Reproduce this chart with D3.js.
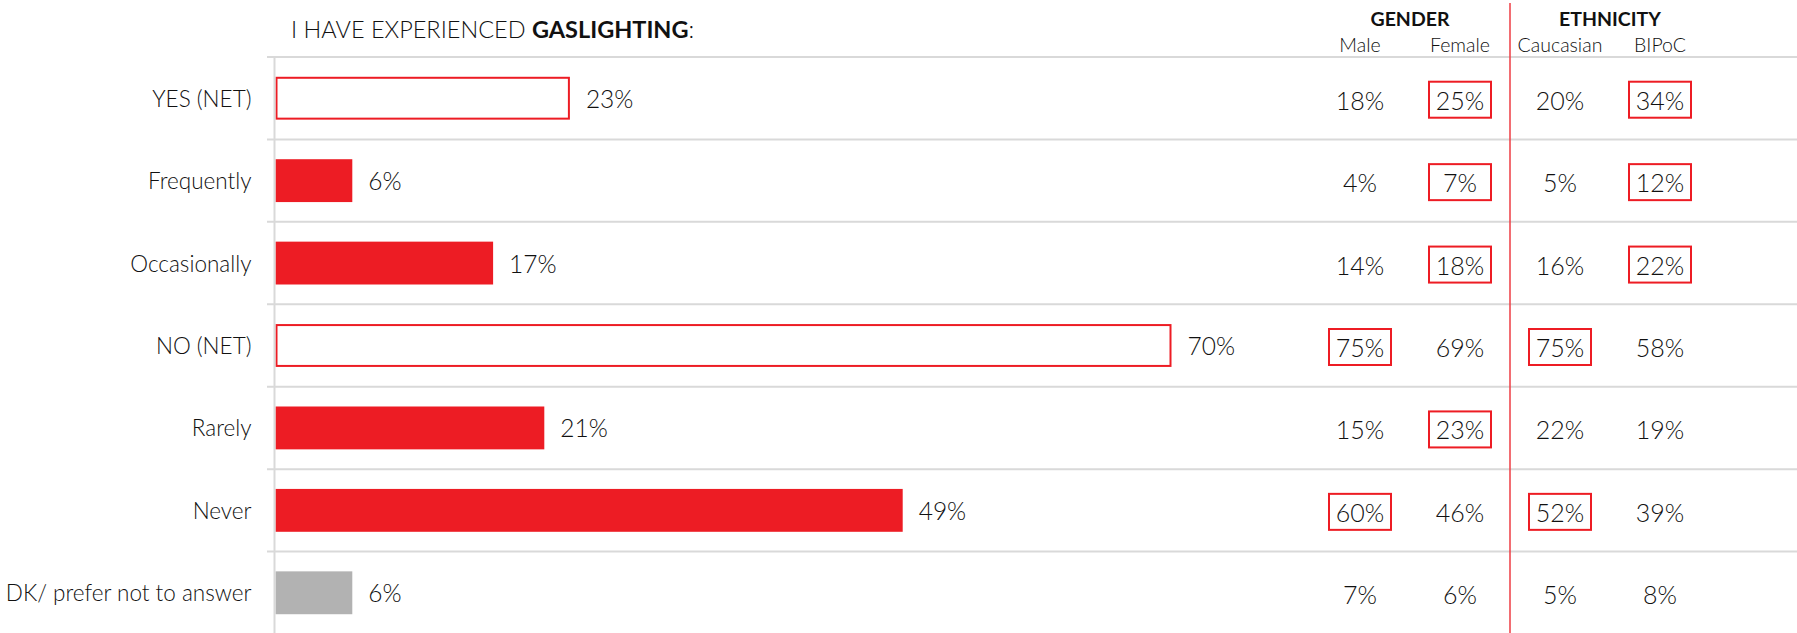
<!DOCTYPE html>
<html>
<head>
<meta charset="utf-8">
<script src="https://cdn.jsdelivr.net/npm/d3@7"></script>
<style>
  html, body { margin: 0; padding: 0; background: #ffffff; }
  svg { display: block; }
  text { font-family: "Lato", "Open Sans", sans-serif; fill: #111111; }
</style>
</head>
<body>
<svg id="chart" width="1797" height="633"></svg>
<script>
// Survey answers: "I have experienced gaslighting"
const categories = [
  "YES (NET)",
  "Frequently",
  "Occasionally",
  "NO (NET)",
  "Rarely",
  "Never",
  "DK/ prefer not to answer"
];
const totalValues = [23, 6, 17, 70, 21, 49, 6];

// Net rows are drawn as outlined bars, the "don't know" row in grey
const netCategories = ["YES (NET)", "NO (NET)"];
const noAnswerCategory = "DK/ prefer not to answer";

// Breakdown columns
const subgroups = ["Male", "Female", "Caucasian", "BIPoC"];
const maleValues = [18, 4, 14, 75, 15, 60, 7];
const femaleValues = [25, 7, 18, 69, 23, 46, 6];
const caucasianValues = [20, 5, 16, 75, 22, 52, 5];
const bipocValues = [34, 12, 22, 58, 19, 39, 8];

// Cells that are significantly higher than the comparison group (boxed)
const maleHigher = [false, false, false, true, false, true, false];
const femaleHigher = [true, true, true, false, true, false, false];
const caucasianHigher = [false, false, false, true, false, true, false];
const bipocHigher = [true, true, true, false, false, false, false];

const groupNames = ["GENDER", "ETHNICITY"];
const groupMembers = [["Male", "Female"], ["Caucasian", "BIPoC"]];

const subgroupValues = [maleValues, femaleValues, caucasianValues, bipocValues];
const subgroupHigher = [maleHigher, femaleHigher, caucasianHigher, bipocHigher];

const RED = "#ED1C24";
const GRID = "#d9d9d9";
const GREY_BAR = "#b2b2b2";

const W = 1797, H = 633;
const svg = d3.select("#chart");

// Scales
const y = d3.scaleBand().domain(categories).range([57, 634]).padding(0);
const x = d3.scaleLinear().domain([0, 100]).range([275.5, 1555.5]);
const col = d3.scalePoint().domain(subgroups).range([1360, 1660]);

const step = y.step();
const barH = step * 0.52;
const mid = c => y(c) + step / 2;

// Horizontal row separators
svg.append("g").selectAll("line")
  .data(categories)
  .join("line")
  .attr("x1", 267).attr("x2", W)
  .attr("y1", d => y(d)).attr("y2", d => y(d))
  .attr("stroke", GRID).attr("stroke-width", 2);

// Bars
const rows = categories.map((c, i) => ({ c, v: totalValues[i] }));
const isNet = d => netCategories.includes(d.c);
svg.append("g").selectAll("rect")
  .data(rows)
  .join("rect")
  .attr("x", d => isNet(d) ? x(0) + 1 : x(0))
  .attr("y", d => isNet(d) ? mid(d.c) - barH / 2 + 1 : mid(d.c) - barH / 2)
  .attr("width", d => isNet(d) ? x(d.v) - x(0) - 2 : x(d.v) - x(0))
  .attr("height", d => isNet(d) ? barH - 2 : barH)
  .attr("fill", d => isNet(d) ? "#ffffff" : (d.c === noAnswerCategory ? GREY_BAR : RED))
  .attr("stroke", d => isNet(d) ? RED : "none")
  .attr("stroke-width", 2);

// Category axis (left)
const yAxis = d3.axisLeft(y).tickSize(0).tickPadding(0);
const axisG = svg.append("g")
  .attr("transform", `translate(274.5,0)`)
  .call(yAxis);
axisG.select(".domain").remove();
axisG.selectAll(".tick text")
  .attr("x", -23)
  .attr("dy", null)
  .attr("y", 8.5)
  .style("font-family", "Lato, 'Open Sans', sans-serif")
  .style("font-size", "22.5px")
  .style("font-weight", 300)
  .attr("fill", "#111111");
svg.append("line")
  .attr("x1", 274.5).attr("x2", 274.5)
  .attr("y1", 57).attr("y2", H)
  .attr("stroke", GRID).attr("stroke-width", 2);

// Value labels at bar ends
svg.append("g").selectAll("text")
  .data(rows)
  .join("text")
  .attr("x", d => x(d.v) + 16)
  .attr("y", d => mid(d.c) + 9.5)
  .style("font-size", "24.5px")
  .style("font-weight", 300)
  .attr("fill", "#000")
  .text(d => d.v + "%");

// Title
const title = svg.append("text")
  .attr("x", 291)
  .attr("y", 37.5)
  .style("font-size", "23.5px")
  .style("font-weight", 300)
  .attr("fill", "#000");
title.append("tspan").text("I HAVE EXPERIENCED ");
title.append("tspan").style("font-weight", 700).text("GASLIGHTING");
title.append("tspan").text(":");

// Group separator
svg.append("line")
  .attr("x1", 1510).attr("x2", 1510)
  .attr("y1", 3).attr("y2", H)
  .attr("stroke", "#ee3d43").attr("stroke-width", 1.5);

// Group headers
svg.append("g").selectAll("text")
  .data(groupNames.map((g, i) => ({ g, m: groupMembers[i] })))
  .join("text")
  .attr("x", d => d3.mean(d.m, s => col(s)))
  .attr("y", 26)
  .attr("text-anchor", "middle")
  .style("font-size", "19.5px")
  .style("font-weight", 700)
  .attr("fill", "#000")
  .text(d => d.g);

// Subgroup headers
svg.append("g").selectAll("text")
  .data(subgroups)
  .join("text")
  .attr("x", d => col(d))
  .attr("y", 52)
  .attr("text-anchor", "middle")
  .style("font-size", "19.5px")
  .style("font-weight", 300)
  .attr("fill", "#000")
  .text(d => d);

// Breakdown cells
const cells = [];
subgroups.forEach((s, j) => {
  categories.forEach((c, i) => {
    cells.push({ s, c, v: subgroupValues[j][i], hi: subgroupHigher[j][i] });
  });
});

const cellG = svg.append("g");
cellG.selectAll("rect")
  .data(cells.filter(d => d.hi))
  .join("rect")
  .attr("x", d => col(d.s) - 31)
  .attr("y", d => mid(d.c) - 16.5)
  .attr("width", 62)
  .attr("height", 36)
  .attr("fill", "none")
  .attr("stroke", RED)
  .attr("stroke-width", 2);

cellG.selectAll("text")
  .data(cells)
  .join("text")
  .attr("x", d => col(d.s))
  .attr("y", d => mid(d.c) + 11.5)
  .attr("text-anchor", "middle")
  .style("font-size", "25px")
  .style("font-weight", 300)
  .attr("fill", "#000")
  .text(d => d.v + "%");
</script>
</body>
</html>
